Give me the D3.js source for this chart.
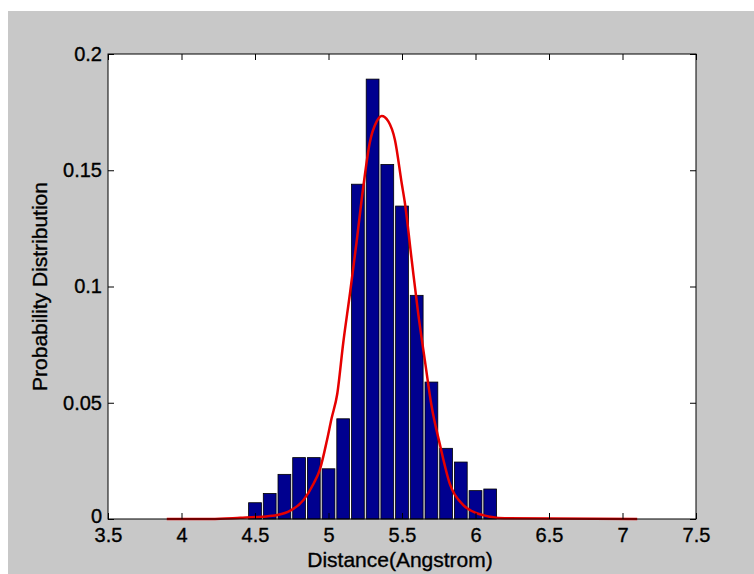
<!DOCTYPE html>
<html>
<head>
<meta charset="utf-8">
<script src="https://cdn.jsdelivr.net/npm/d3@7"></script>
<style>
  body { margin: 0; background: #fff; }
  svg { display: block; }
  text { font-family: "Liberation Sans", Arial, sans-serif; fill: #000; }
</style>
</head>
<body>
<div id="chart"></div>
<script>
// histogram bins (centres) and their heights
const binCenters = [4.5, 4.6, 4.7, 4.8, 4.9, 5.0, 5.1, 5.2, 5.3, 5.4, 5.5, 5.6, 5.7, 5.8, 5.9, 6.0, 6.1];
const binValues = [0.0070, 0.0110, 0.0192, 0.0264, 0.0264, 0.0216, 0.0431, 0.1440, 0.1892, 0.1525,
                   0.1346, 0.0962, 0.0589, 0.0304, 0.0245, 0.0122, 0.0129];

// fitted curve
const curveX = [3.9, 4.2, 4.4, 4.55, 4.65, 4.74, 4.83, 4.9, 4.94, 4.99, 5.02, 5.06, 5.10, 5.146, 5.19,
                5.237, 5.28, 5.328, 5.362, 5.407, 5.452, 5.498, 5.52, 5.566, 5.611, 5.656, 5.70, 5.758,
                5.826, 5.917, 6.008, 6.1, 6.2, 7.1];
const curveY = [0, 0, 0.0005, 0.001, 0.0017, 0.0036, 0.0082, 0.0154, 0.021, 0.034, 0.043, 0.054, 0.0756,
                0.097, 0.1186, 0.143, 0.1616, 0.171, 0.1733, 0.171, 0.163, 0.1444, 0.1358, 0.1114, 0.088,
                0.068, 0.049, 0.032, 0.015, 0.006, 0.0025, 0.001, 0.0003, 0];

const xTicks = [3.5, 4, 4.5, 5, 5.5, 6, 6.5, 7, 7.5];
const yTicks = [0, 0.05, 0.1, 0.15, 0.2];
const binWidth = 0.087;

const width = 754;
const height = 574;
const margin = { top: 54, right: 58, bottom: 55, left: 108 };
const plotW = width - margin.left - margin.right;
const plotH = height - margin.top - margin.bottom;

const svg = d3.select("#chart")
    .append("svg")
    .attr("width", width)
    .attr("height", height);

// grey figure background
svg.append("rect")
    .attr("x", 8).attr("y", 11)
    .attr("width", width - 8).attr("height", height - 11)
    .attr("fill", "#c8c8c8");

const xScale = d3.scaleLinear().domain([3.5, 7.5]).range([0, plotW]);
const yScale = d3.scaleLinear().domain([0, 0.2]).range([plotH, 0]);

const g = svg.append("g")
    .attr("transform", `translate(${margin.left}, ${margin.top})`);

g.append("rect")
    .attr("width", plotW).attr("height", plotH)
    .attr("fill", "#fff");

// bars
g.selectAll("rect.bar")
    .data(binCenters)
    .enter()
    .append("rect")
    .attr("class", "bar")
    .attr("x", (d) => xScale(d - binWidth / 2))
    .attr("width", xScale(binWidth) - xScale(0))
    .attr("y", (d, i) => yScale(binValues[i]))
    .attr("height", (d, i) => yScale(0) - yScale(binValues[i]))
    .attr("fill", "#00008f")
    .attr("stroke", "#000")
    .attr("stroke-width", 0.8);

// red curve
const line = d3.line()
    .x((d) => xScale(d[0]))
    .y((d) => yScale(d[1]))
    .curve(d3.curveMonotoneX);

g.append("path")
    .datum(curveX.map((x, i) => [x, curveY[i]]))
    .attr("d", line)
    .attr("fill", "none")
    .attr("stroke", "#e60000")
    .attr("stroke-width", 2.5);

// axes: MATLAB style, ticks inside on all sides
const tick = 6;
g.append("g")
    .attr("class", "lab")
    .attr("transform", `translate(0, ${plotH})`)
    .call(d3.axisBottom(xScale).tickValues(xTicks).tickSize(-tick).tickPadding(9)
        .tickFormat(d3.format("")))
    .call((a) => a.select(".domain").remove());

g.append("g")
    .call(d3.axisTop(xScale).tickValues(xTicks).tickSize(-tick).tickFormat(""))
    .call((a) => a.select(".domain").remove());

const yAxis = g.append("g")
    .attr("class", "lab")
    .call(d3.axisLeft(yScale).tickValues(yTicks).tickSize(-tick).tickPadding(6)
        .tickFormat(d3.format("")))
    .call((a) => a.select(".domain").remove());

// the "0" sits a little higher so it clears "3.5"
yAxis.selectAll(".tick text")
    .filter((d) => d === 0)
    .attr("dy", "0.15em");

g.append("g")
    .attr("transform", `translate(${plotW}, 0)`)
    .call(d3.axisRight(yScale).tickValues(yTicks).tickSize(-tick).tickFormat(""))
    .call((a) => a.select(".domain").remove());

g.selectAll(".lab text")
    .style("font-size", "20px")
    .style("font-family", "'Liberation Sans', Arial, sans-serif")
    .attr("stroke", "#000")
    .attr("stroke-width", 0.35);

g.selectAll(".tick line").attr("stroke", "#000");

g.append("rect")
    .attr("width", plotW).attr("height", plotH)
    .attr("fill", "none")
    .attr("stroke", "#000")
    .attr("stroke-width", 1);

// axis titles
svg.append("text")
    .attr("x", 400)
    .attr("y", 567)
    .attr("text-anchor", "middle")
    .style("font-size", "21px")
    .attr("stroke", "#000")
    .attr("stroke-width", 0.35)
    .text("Distance(Angstrom)");

svg.append("text")
    .attr("transform", `translate(47, ${margin.top + plotH / 2}) rotate(-90)`)
    .attr("text-anchor", "middle")
    .style("font-size", "21px")
    .attr("stroke", "#000")
    .attr("stroke-width", 0.35)
    .text("Probability Distribution");
</script>
</body>
</html>
